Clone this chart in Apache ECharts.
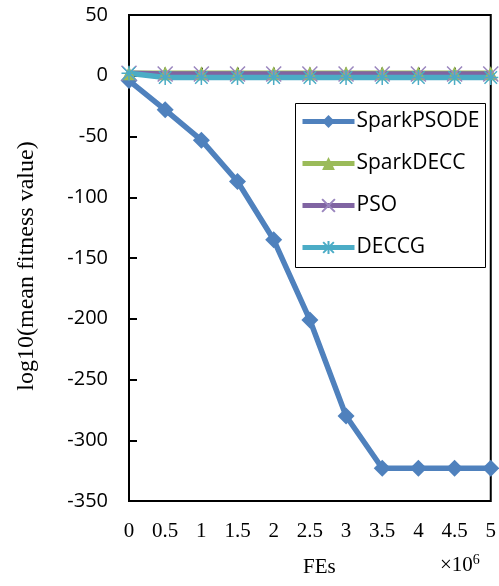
<!DOCTYPE html>
<html>
<head>
<meta charset="utf-8">
<script src="https://cdn.jsdelivr.net/npm/echarts@6/dist/echarts.min.js"></script>
<style>
  html, body { margin: 0; padding: 0; background: #fff; }
  #chart { width: 499px; height: 586px; }
</style>
</head>
<body>
<div id="chart"></div>
<script>
// 数据
const fes = [0, 0.5, 1, 1.5, 2, 2.5, 3, 3.5, 4, 4.5, 5]
const sparkPSODE = [-4, -28, -53, -87, -135, -201, -280, -323, -323, -323, -323]
const sparkDECC = [2, 2, 2, 2, 2, 2, 2, 2, 2, 2, 2]
const pso = [2, 1.5, 1.5, 1.5, 1.5, 1.5, 1.5, 1.5, 1.5, 1.5, 1.5]
const deccg = [2, -1.5, -1.5, -1.5, -1.5, -1.5, -1.5, -1.5, -1.5, -1.5, -1.5]
const yTicks = [50, 0, -50, -100, -150, -200, -250, -300, -350]

const pair = (ys) => fes.map((x, i) => [x, ys[i]])

// 叉号、星号
const crossPath = 'path://M0,0L10,10M10,0L0,10'
const starPath = 'path://M0,0L10,10M10,0L0,10M5,-1L5,11M-1,5L11,5'

const chart = echarts.init(document.getElementById('chart'))

const lineSeries = (name, ys, color, symbol, size, markerColor, stroke) => ({
  name,
  type: 'line',
  data: pair(ys),
  symbol,
  symbolSize: size,
  showAllSymbol: true,
  lineStyle: { color, width: 5.5 },
  itemStyle: stroke
    ? { color: 'rgba(0,0,0,0)', borderColor: markerColor, borderWidth: 1.5 }
    : { color: markerColor, borderWidth: 0 },
  color,
  z: 2
})

chart.setOption({
  animation: false,
  grid: {
    left: 129, top: 15, right: 7, bottom: 85,
    show: true, borderColor: '#000', borderWidth: 2
  },
  xAxis: {
    type: 'value', min: 0, max: 5, interval: 0.5,
    axisLine: { lineStyle: { color: '#000', width: 2 } },
    axisTick: { inside: true, length: 8, lineStyle: { color: '#000', width: 2 } },
    axisLabel: { color: '#000', fontFamily: 'Liberation Serif', fontSize: 21, margin: 20 },
    splitLine: { show: false }
  },
  yAxis: {
    type: 'value', min: -350, max: 50, interval: 50,
    axisLine: { show: true, lineStyle: { color: '#000', width: 2 } },
    axisTick: { show: true, inside: true, length: 8, lineStyle: { color: '#000', width: 2 } },
    axisLabel: {
      color: '#000', fontFamily: 'Open Sans', fontSize: 20, margin: 21,
      formatter: (v) => (yTicks.includes(v) ? String(v) : '')
    },
    splitLine: { show: false }
  },
  legend: {
    z: 20,
    orient: 'vertical',
    left: 300, top: 111,
    padding: 0,
    itemGap: 21,
    itemWidth: 52, itemHeight: 16,
    lineStyle: { width: 5 },
    textStyle: { color: '#000', fontFamily: 'Open Sans', fontSize: 21, padding: [0, 0, 0, -3] },
    data: ['SparkPSODE', 'SparkDECC', 'PSO', 'DECCG']
  },
  series: [
    lineSeries('SparkPSODE', sparkPSODE, '#4F81BD', 'diamond', 17, '#4F81BD', false),
    lineSeries('SparkDECC', sparkDECC, '#9BBB59', 'triangle', 14, '#9BBB59', false),
    lineSeries('PSO', pso, '#8064A2', crossPath, 15, '#9A86BE', true),
    lineSeries('DECCG', deccg, '#4BACC6', starPath, 15, '#4BACC6', true)
  ],
  graphic: [
    {
      type: 'rect', z: 5,
      shape: { x: 295.5, y: 103.5, width: 190, height: 164 },
      style: { fill: '#fff', stroke: '#000', lineWidth: 1 }
    },
    {
      type: 'text', left: 303, top: 557,
      style: { text: 'FEs', font: '21px "Liberation Serif"', fill: '#000' }
    },
    {
      type: 'text', left: 440, top: 553,
      style: {
        text: '×10{s|6}',
        font: '21px "Liberation Serif"', fill: '#000',
        rich: { s: { fontSize: 14, verticalAlign: 'top', padding: [0, 0, 10, 0], fontFamily: 'Liberation Serif' } }
      }
    },
    {
      type: 'text', x: 27, y: 266, rotation: Math.PI / 2,
      style: {
        text: 'log10(mean fitness value)',
        font: '24px "Liberation Serif"', fill: '#000',
        align: 'center', verticalAlign: 'middle'
      }
    }
  ]
})
</script>
</body>
</html>
